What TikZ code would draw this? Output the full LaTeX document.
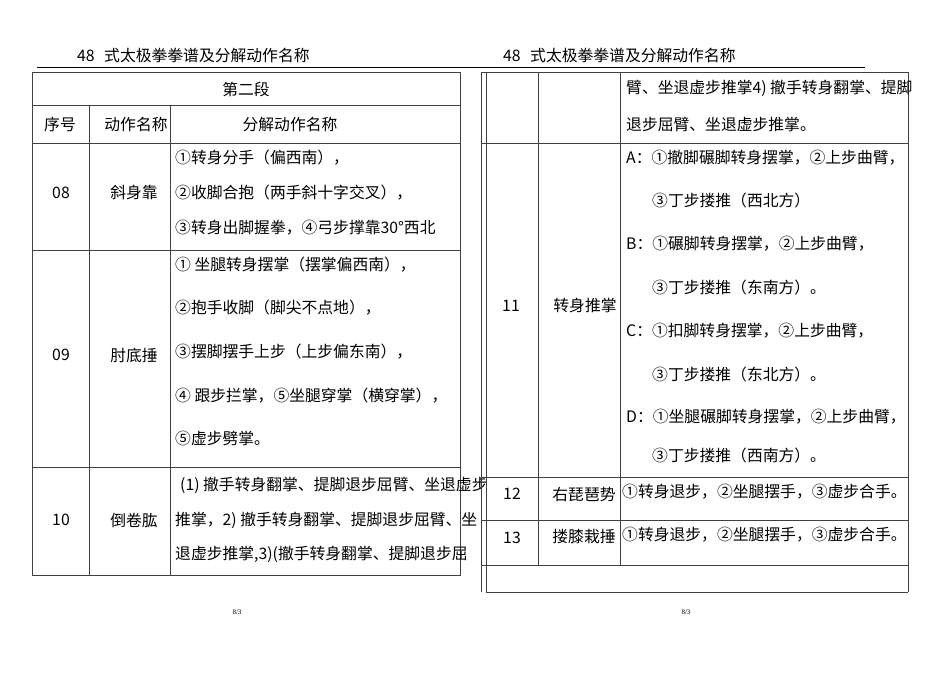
\documentclass[tikz,border=0pt]{standalone}
\usepackage{fontspec}
\setmainfont{Liberation Serif}
\newfontfamily\cjk{Noto Sans CJK SC}
\begin{document}
\begin{tikzpicture}[x=1pt,y=-1pt,
  t/.style={font=\cjk\fontsize{15.8}{17}\selectfont,inner sep=0pt,anchor=west},
  c/.style={font=\cjk\fontsize{15.8}{17}\selectfont,inner sep=0pt},
  g/.style={draw=black!75,line width=0.8pt}]
\useasboundingbox (0,0) rectangle (950,672);
\fill[white] (0,0) rectangle (950,672);
% headers
\node[t] (h1) at (77,55) {48\hspace{0.6em}式太极拳拳谱及分解动作名称};
\node[t] (h2) at (503,55) {48\hspace{0.6em}式太极拳拳谱及分解动作名称};
\draw[line width=1.4pt] (37,67.5) -- (480,67.5);
\draw[line width=1.4pt] (470,67.5) -- (865,67.5);
% left table
\draw[g] (32,72) rectangle (460,575);
\foreach \y in {105,143,250,467} \draw[g] (32,\y) -- (460,\y);
\draw[g] (89,105) -- (89,575);
\draw[g] (170,105) -- (170,575);
\node[c] (s2) at (246,89) {第二段};
\node[c] (a1) at (60,124) {序号};
\node[c] (a2) at (136,124) {动作名称};
\node[c] (a3) at (290,124) {分解动作名称};
\node[c] (n08) at (61,193) {08};
\node[c] (m08) at (134,193) {斜身靠};
\node[t] (l1) at (175,158) {①转身分手（偏西南），};
\node[t] (l2) at (175,193) {②收脚合抱（两手斜十字交叉），};
\node[t] (l3) at (175,228) {③转身出脚握拳，④弓步撑靠30°西北};
\node[c] (n09) at (61,355) {09};
\node[c] (m09) at (134,355) {肘底捶};
\node[t] (l4) at (175,265) {① 坐腿转身摆掌（摆掌偏西南），};
\node[t] (l5) at (175,308) {②抱手收脚（脚尖不点地），};
\node[t] (l6) at (175,352) {③摆脚摆手上步（上步偏东南），};
\node[t] (l7) at (175,396) {④ 跟步拦掌，⑤坐腿穿掌（横穿掌），};
\node[t] (l8) at (175,438) {⑤虚步劈掌。};
\node[c] (n10) at (61,520) {10};
\node[c] (m10) at (134,520) {倒卷肱};
\node[t] (l9) at (180,485) {(1) 撤手转身翻掌、提脚退步屈臂、坐退虚步};
\node[t] (l10) at (175,520) {推掌，2) 撤手转身翻掌、提脚退步屈臂、坐};
\node[t] (l11) at (175,554) {退虚步推掌,3)(撤手转身翻掌、提脚退步屈};
% right table
\draw[g] (481,72) -- (481,592);
\draw[g] (486,72) -- (486,592) -- (908,592);
\draw[g] (481,72) -- (908,72) -- (908,592);
\foreach \y in {143,477,520,565} \draw[g] (481,\y) -- (908,\y);
\draw[g] (538,72) -- (538,565);
\draw[g] (620,72) -- (620,565);
\node[t] (r1) at (626,88) {臂、坐退虚步推掌4) 撤手转身翻掌、提脚};
\node[t] (r2) at (626,124) {退步屈臂、坐退虚步推掌。};
\node[c] (n11) at (511,306) {11};
\node[c] (m11) at (585,306) {转身推掌};
\node[t] (r3) at (626,158) {A：①撤脚碾脚转身摆掌，②上步曲臂，};
\node[t] (r4) at (652,200) {③丁步搂推（西北方）};
\node[t] (r5) at (626,244) {B：①碾脚转身摆掌，②上步曲臂，};
\node[t] (r6) at (652,287) {③丁步搂推（东南方）。};
\node[t] (r7) at (626,331) {C：①扣脚转身摆掌，②上步曲臂，};
\node[t] (r8) at (652,374) {③丁步搂推（东北方）。};
\node[t] (r9) at (626,417) {D：①坐腿碾脚转身摆掌，②上步曲臂，};
\node[t] (r10) at (652,455) {③丁步搂推（西南方）。};
\node[c] (n12) at (512,494) {12};
\node[c] (m12) at (584,494) {右琵琶势};
\node[t] (r11) at (622,492) {①转身退步，②坐腿摆手，③虚步合手。};
\node[c] (n13) at (512,538) {13};
\node[c] (m13) at (584,536) {搂膝栽捶};
\node[t] (r12) at (622,535) {①转身退步，②坐腿摆手，③虚步合手。};
\node[font=\fontsize{7}{8}\selectfont] (p1) at (237,612) {8/3};
\node[font=\fontsize{7}{8}\selectfont] (p2) at (686,612) {8/3};
\end{tikzpicture}
\end{document}
